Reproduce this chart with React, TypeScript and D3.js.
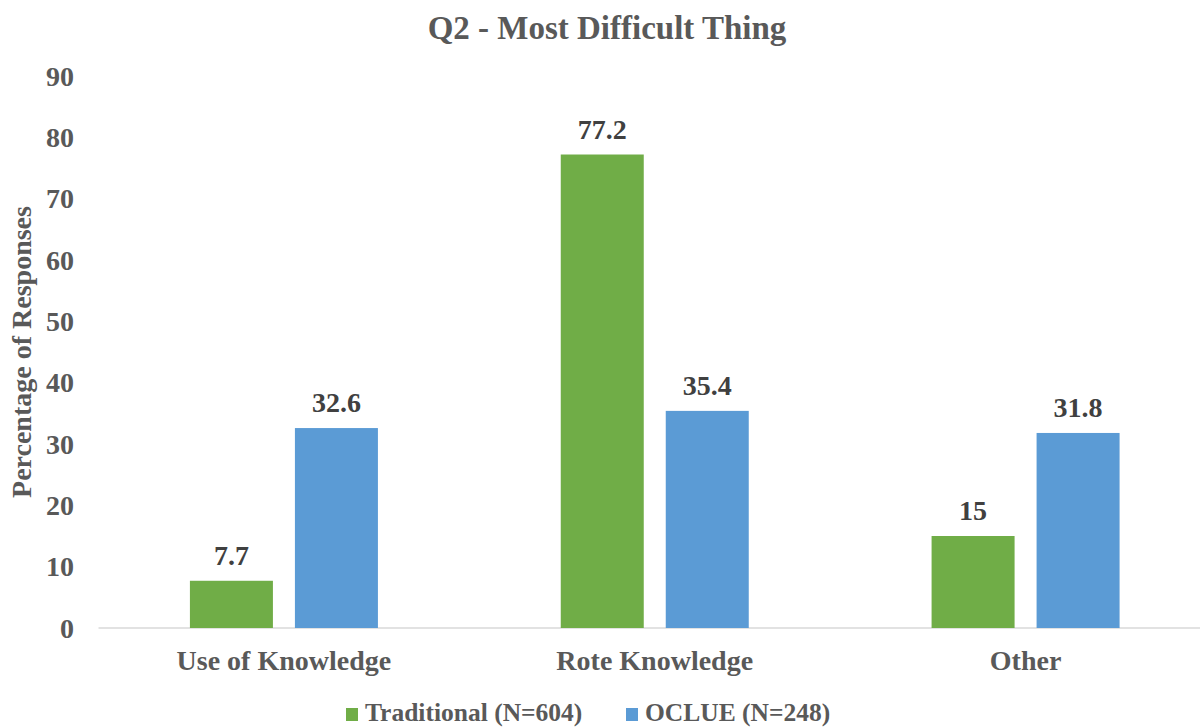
import React from "react";
import * as d3 from "d3";

const categories = ["Use of Knowledge", "Rote Knowledge", "Other"];
const seriesNames = ["Traditional (N=604)", "OCLUE (N=248)"];
const traditional = [7.7, 77.2, 15];
const oclue = [32.6, 35.4, 31.8];
const yTicks = [0, 10, 20, 30, 40, 50, 60, 70, 80, 90];
const colors = ["#70AD47", "#5B9BD5"];

const W = 1200;
const H = 727;
const FONT = "'Liberation Serif', 'Times New Roman', serif";

export default function App() {
  const y = d3.scaleLinear().domain([0, 90]).range([628, 76]);
  const x = d3.scaleBand().domain(categories).range([98.5, 1211]).paddingInner(0).paddingOuter(0);
  const sub = d3.scaleBand().domain(seriesNames).range([-94, 94]).paddingInner(22 / 105).paddingOuter(0);
  const values = [traditional, oclue];

  return (
    <svg width={W} height={H} style={{ position: "absolute", left: 0, top: 0, background: "#fff" }} fontFamily={FONT} fontWeight="bold">
      <text x={607} y={39} textAnchor="middle" fontSize={33} fill="#595959">Q2 - Most Difficult Thing</text>
      <text transform={`translate(31,352) rotate(-90)`} textAnchor="middle" fontSize={28} fill="#595959">Percentage of Responses</text>
      {yTicks.map((t) => (
        <text key={t} x={74} y={y(t)} dy="0.35em" textAnchor="end" fontSize={28} fill="#595959">{t}</text>
      ))}
      <line x1={98.5} x2={1211} y1={y(0)} y2={y(0)} stroke="#D9D9D9" strokeWidth={1.5} />
      {categories.map((c, ci) => {
        const cx = (x(c) as number) + x.bandwidth() / 2;
        return (
          <g key={c}>
            {seriesNames.map((s, si) => {
              const v = values[si][ci];
              const bx = cx + (sub(s) as number);
              return (
                <g key={s}>
                  <rect x={bx} y={y(v)} width={sub.bandwidth()} height={y(0) - y(v)} fill={colors[si]} />
                  <text x={bx + sub.bandwidth() / 2} y={y(v) - 16} textAnchor="middle" fontSize={28} fill="#404040">{String(v)}</text>
                </g>
              );
            })}
            <text x={cx} y={670} textAnchor="middle" fontSize={28} fill="#595959">{c}</text>
          </g>
        );
      })}
      <rect x={346} y={708} width={12} height={13} fill={colors[0]} />
      <text x={365} y={721} fontSize={25.5} fill="#595959">{seriesNames[0]}</text>
      <rect x={626} y={708} width={12} height={13} fill={colors[1]} />
      <text x={645} y={721} fontSize={25.5} fill="#595959">{seriesNames[1]}</text>
    </svg>
  );
}
